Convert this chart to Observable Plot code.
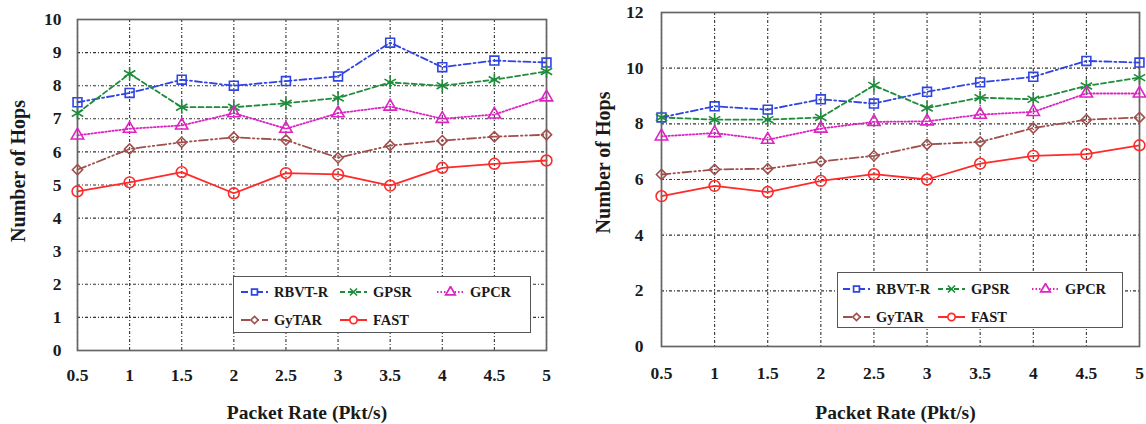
<!DOCTYPE html>
<html><head><meta charset="utf-8">
<script src="https://cdn.jsdelivr.net/npm/d3@7"></script>
<script src="https://cdn.jsdelivr.net/npm/@observablehq/plot@0.6"></script>
<style>
body{margin:0;background:#fff;}
#wrap{position:relative;width:1146px;height:424px;overflow:hidden;font-family:"Liberation Serif","Times New Roman",serif;}
.panel{position:absolute;top:0;}
.legend{position:absolute;border:1.5px solid #555;background:#fff;box-sizing:border-box;}
.item{position:absolute;display:flex;align-items:center;height:18px;font-weight:bold;font-size:14.5px;color:#1a1a1a;white-space:nowrap;}
.item svg{margin-right:6px;}
</style></head><body><div id="wrap"></div>
<script>
// ---- data ----
const xs = [0.5, 1, 1.5, 2, 2.5, 3, 3.5, 4, 4.5, 5];
const xTickLabels = ["0.5", "1", "1.5", "2", "2.5", "3", "3.5", "4", "4.5", "5"];
const seriesNames = ["RBVT-R", "GPSR", "GPCR", "GyTAR", "FAST"];

// Left panel
const leftRBVTR = [7.50, 7.78, 8.18, 8.00, 8.14, 8.28, 9.30, 8.56, 8.76, 8.70];
const leftGPSR  = [7.17, 8.36, 7.35, 7.35, 7.47, 7.63, 8.10, 8.00, 8.18, 8.43];
const leftGPCR  = [6.50, 6.70, 6.80, 7.17, 6.70, 7.17, 7.37, 7.00, 7.13, 7.65];
const leftGyTAR = [5.46, 6.09, 6.29, 6.44, 6.36, 5.82, 6.19, 6.34, 6.46, 6.52];
const leftFAST  = [4.81, 5.08, 5.39, 4.75, 5.36, 5.32, 4.98, 5.52, 5.64, 5.74];
const leftYTicks = [0, 1, 2, 3, 4, 5, 6, 7, 8, 9, 10];

// Right panel
const rightRBVTR = [8.23, 8.63, 8.51, 8.88, 8.73, 9.15, 9.49, 9.69, 10.26, 10.20];
const rightGPSR  = [8.23, 8.15, 8.15, 8.23, 9.38, 8.57, 8.94, 8.88, 9.36, 9.66];
const rightGPCR  = [7.55, 7.67, 7.43, 7.83, 8.07, 8.09, 8.33, 8.43, 9.09, 9.09];
const rightGyTAR = [6.18, 6.36, 6.39, 6.65, 6.85, 7.26, 7.35, 7.85, 8.15, 8.23];
const rightFAST  = [5.40, 5.77, 5.55, 5.95, 6.19, 6.00, 6.57, 6.85, 6.91, 7.23];
const rightYTicks = [0, 2, 4, 6, 8, 10, 12];

const xLabel = "Packet Rate (Pkt/s)";
const yLabel = "Number of Hops";

// ---- styles ----
const styles = {
  "RBVT-R": {color: "#2f44e4", dash: "7,3,2,3", symbol: "square", r: 5.0, leg: d3.symbolSquare, legSize: 34},
  "GPSR":   {color: "#1f8c3b", dash: "5,3", symbol: "asterisk", r: 6.2, leg: d3.symbolTimes, legSize: 34},
  "GPCR":   {color: "#df22c4", dash: "1.5,2", symbol: "triangle", r: 4.6, leg: d3.symbolTriangle, legSize: 40},
  "GyTAR":  {color: "#a0504c", dash: "9,3,1.5,3,1.5,3", symbol: "diamond2", r: 4.6, leg: d3.symbolDiamond2, legSize: 34},
  "FAST":   {color: "#ff2a2a", dash: null, symbol: "circle", r: 5.4, leg: d3.symbolCircle, legSize: 42}
};

function tidy(arrays) {
  const rows = [];
  seriesNames.forEach((s, k) => arrays[k].forEach((v, i) => rows.push({x: xs[i], y: v, s})));
  return rows;
}

function makePanel(o) {
  const data = tidy(o.arrays);
  const marks = [
    Plot.gridX(xs, {stroke: "#333", strokeOpacity: 1, strokeWidth: 1.1, strokeDasharray: "3,2,1,2"}),
    Plot.gridY(o.yTicks, {stroke: "#333", strokeOpacity: 1, strokeWidth: 1.1, strokeDasharray: "3,2,1,2"}),
    Plot.frame({stroke: "#666", strokeWidth: 1.7})
  ];
  for (const s of seriesNames) {
    const st = styles[s];
    const d = data.filter(r => r.s === s);
    marks.push(Plot.line(d, {x: "x", y: "y", stroke: st.color, strokeWidth: 1.8, strokeDasharray: st.dash}));
  }
  for (const s of seriesNames) {
    const st = styles[s];
    const d = data.filter(r => r.s === s);
    marks.push(Plot.dot(d, {x: "x", y: "y", symbol: () => st.symbol, r: st.r, stroke: st.color, fill: "none", strokeWidth: 1.6}));
  }
  marks.push(
    Plot.axisX(xs, {tickSize: 0, tickPadding: o.xTickPad, tickFormat: (d, i) => xTickLabels[i], fontSize: 17.5, fontWeight: "bold", fill: "#1a1a1a", label: null}),
    Plot.axisY(o.yTicks, {tickSize: 0, tickPadding: o.yTickPad, fontSize: 17.5, fontWeight: "bold", fill: "#1a1a1a", label: null}),
    Plot.text([xLabel], {frameAnchor: "bottom", dx: o.xlDx, dy: o.xlDy, lineAnchor: "middle", fontSize: 19.5, fontWeight: "bold", fill: "#1a1a1a"}),
    Plot.text([yLabel], {frameAnchor: "left", dx: o.ylDx, dy: o.ylDy, rotate: -90, lineAnchor: "middle", textAnchor: "middle", fontSize: 20, fontWeight: "bold", fill: "#1a1a1a"})
  );
  const chart = Plot.plot({
    width: o.width, height: 424,
    marginLeft: o.mL, marginRight: o.mR, marginTop: o.mT, marginBottom: o.mB,
    style: {fontFamily: '"Liberation Serif", "Times New Roman", serif', background: "transparent", overflow: "visible"},
    x: {domain: [0.5, 5]},
    y: {domain: o.yDomain},
    marks
  });
  const div = document.createElement("div");
  div.className = "panel";
  div.style.left = o.left + "px";
  div.appendChild(chart);
  return div;
}

function makeLegend(o) {
  const box = document.createElement("div");
  box.className = "legend";
  Object.assign(box.style, {left: o.left + "px", top: o.top + "px", width: o.width + "px", height: o.height + "px"});
  seriesNames.forEach((s, k) => {
    const st = styles[s];
    const row = k < 3 ? 0 : 1;
    const col = k < 3 ? k : k - 3;
    const item = document.createElement("div");
    item.className = "item";
    item.style.left = o.cols[col] + "px";
    item.style.top = (o.rows[row] - 9) + "px";
    const w = 27;
    const svg = d3.create("svg").attr("width", w).attr("height", 12);
    svg.append("line").attr("x1", 0).attr("x2", w).attr("y1", 6).attr("y2", 6)
      .attr("stroke", st.color).attr("stroke-width", 2).attr("stroke-dasharray", st.dash);
    svg.append("path").attr("d", d3.symbol(st.leg, st.legSize)()).attr("transform", `translate(${w / 2},6)`)
      .attr("fill", "#fff").attr("stroke", st.color).attr("stroke-width", 1.7);
    item.appendChild(svg.node());
    const t = document.createElement("span");
    t.textContent = s;
    item.appendChild(t);
    box.appendChild(item);
  });
  return box;
}

const wrap = document.getElementById("wrap");
wrap.appendChild(makePanel({
  left: 0, width: 575, mL: 77, mR: 29, mT: 19, mB: 74,
  yDomain: [0, 10], yTicks: leftYTicks,
  arrays: [leftRBVTR, leftGPSR, leftGPCR, leftGyTAR, leftFAST],
  xTickPad: 18, yTickPad: 16, xlDx: -5, xlDy: 62, ylDx: -59, ylDy: -14
}));
wrap.appendChild(makePanel({
  left: 575, width: 571, mL: 86, mR: 7, mT: 12, mB: 78,
  yDomain: [0, 12], yTicks: rightYTicks,
  arrays: [rightRBVTR, rightGPSR, rightGPCR, rightGyTAR, rightFAST],
  xTickPad: 20, yTickPad: 18, xlDx: -5, xlDy: 66, ylDx: -58, ylDy: -17
}));
wrap.appendChild(makeLegend({left: 233, top: 276, width: 298, height: 57, rows: [15, 43], cols: [7, 106, 203]}));
wrap.appendChild(makeLegend({left: 837, top: 272, width: 286, height: 56, rows: [16, 44], cols: [5, 100, 194]}));
</script></body></html>
